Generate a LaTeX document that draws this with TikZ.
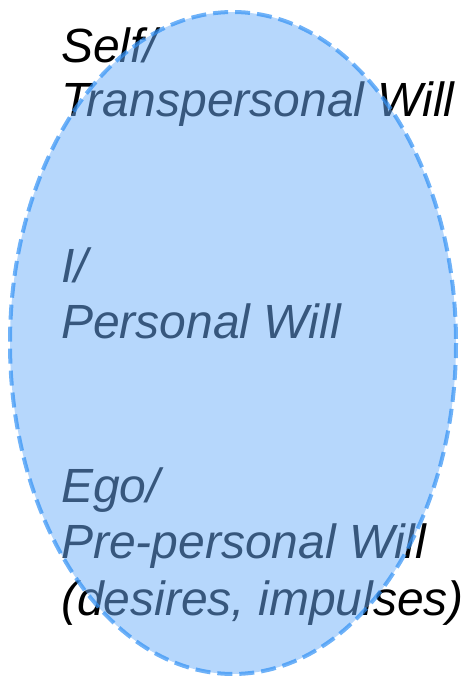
\documentclass[tikz,border=0pt]{standalone}
\usepackage{fontspec}
\setmainfont{Liberation Sans}
\definecolor{ellfill}{RGB}{110,175,250}
\definecolor{elldraw}{RGB}{50,145,245}
\begin{document}
\begin{tikzpicture}[x=1bp,y=-1bp,
  lbl/.style={anchor=base west,inner sep=0pt,font=\fontsize{48bp}{56bp}\selectfont\itshape,text=black},
  bubble/.style={fill=ellfill,fill opacity=0.5,draw=elldraw,draw opacity=0.7,line width=4bp,dash pattern=on 15bp off 7bp}]
\useasboundingbox (0,0) rectangle (464,679);
\node[lbl] (t1) at (61,63) {Self/};
\node[lbl] (t2) at (61,117) {Transpersonal Will};
\node[lbl] (t3) at (61,282) {I/};
\node[lbl] (t4) at (61,338) {Personal Will};
\node[lbl] (t5) at (61,502) {Ego/};
\node[lbl] (t6) at (61,558) {Pre-personal Will};
\node[lbl] (t7) at (61,615) {(desires, impulses)};
\path[bubble] (233,343) ellipse [x radius=223, y radius=331];
\end{tikzpicture}
\end{document}
